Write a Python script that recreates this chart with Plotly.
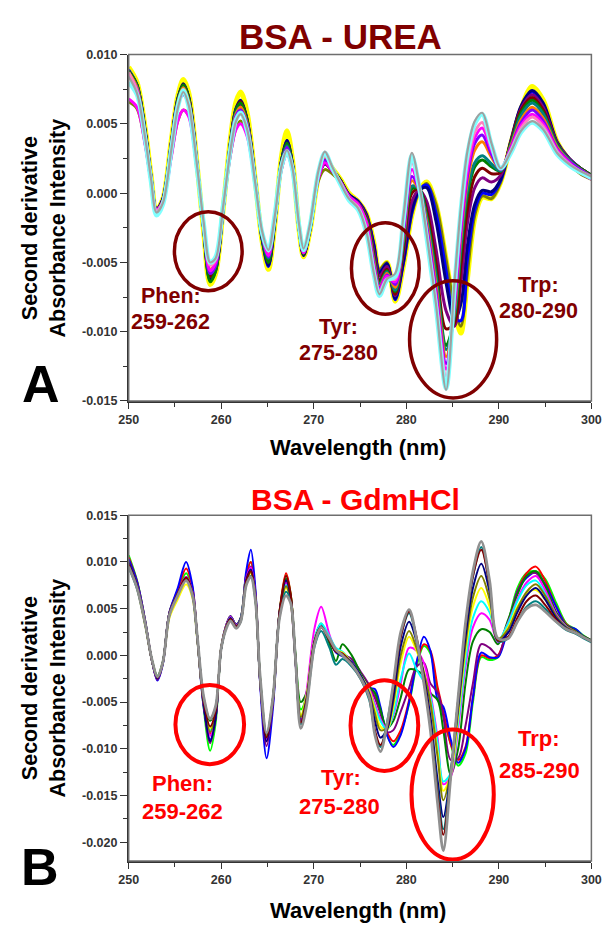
import plotly.graph_objects as go

# ---------------- Panel A: BSA - urea, second-derivative spectra ----------------
WL_A = [250.0, 250.9, 251.8, 252.4, 253.0, 253.7, 254.6, 255.3, 255.9, 256.5,
        257.4, 258.1, 258.8, 259.4, 260.2, 261.0, 261.6, 262.1, 262.8, 263.7,
        264.4, 265.1, 265.8, 266.5, 267.1, 267.7, 268.4, 268.9, 269.6, 270.5,
        271.2, 272.0, 272.9, 273.8, 274.8, 275.7, 276.5, 277.1, 277.9, 278.8,
        279.7, 280.6, 281.4, 282.2, 283.2, 284.3, 285.2, 285.9, 286.6, 287.4,
        288.2, 289.2, 290.2, 291.3, 292.4, 293.6, 294.8, 296.3, 297.6, 298.8, 300.0]

A_GRAY = [0.0084, 0.0072, 0.0039, 0.0011, -0.0014, -0.0007, 0.0031, 0.0061, 0.0073, 0.0063, 0.0019, -0.0021, -0.0050, -0.0047, -0.0010, 0.0031, 0.0052, 0.0057, 0.0046, 0.0006, -0.0027, -0.0041, -0.0016, 0.0019, 0.0031, 0.0018, -0.0022, -0.0040, -0.0022, 0.0016, 0.0030, 0.0019, 0.0007, -0.0004, -0.0011, -0.0028,
          -0.0058, -0.0073, -0.0062, -0.0058, -0.0016, 0.0029, 0.0006, -0.0030, -0.0080, -0.0142, -0.0065, -0.0010, 0.0030, 0.0052, 0.0058, 0.0036, 0.0018, 0.0030, 0.0045, 0.0052, 0.0046, 0.0029, 0.0021, 0.0016, 0.0012]
A_CYAN = [0.0080, 0.0071, 0.0038, 0.0009, -0.0016, -0.0008, 0.0031, 0.0062, 0.0074, 0.0062, 0.0017, -0.0022, -0.0050, -0.0046, -0.0009, 0.0032, 0.0053, 0.0058, 0.0045, 0.0005, -0.0028, -0.0041, -0.0015, 0.0019, 0.0030, 0.0017, -0.0023, -0.0041, -0.0023, 0.0015, 0.0029, 0.0018, 0.0006, -0.0005, -0.0012, -0.0029,
          -0.0059, -0.0074, -0.0063, -0.0060, -0.0018, 0.0027, 0.0004, -0.0032, -0.0082, -0.0141, -0.0068, -0.0012, 0.0028, 0.0050, 0.0057, 0.0035, 0.0018, 0.0029, 0.0044, 0.0051, 0.0045, 0.0028, 0.0020, 0.0015, 0.0011]
A_PINK = [0.0087, 0.0074, 0.0040, 0.0011, -0.0013, -0.0006, 0.0032, 0.0063, 0.0075, 0.0064, 0.0018, -0.0022, -0.0052, -0.0048, -0.0010, 0.0032, 0.0053, 0.0057, 0.0046, 0.0006, -0.0028, -0.0042, -0.0016, 0.0019, 0.0031, 0.0018, -0.0022, -0.0041, -0.0023, 0.0014, 0.0027, 0.0018, 0.0007, -0.0004, -0.0010, -0.0026,
          -0.0056, -0.0071, -0.0062, -0.0062, -0.0020, 0.0022, 0.0003, -0.0030, -0.0078, -0.0132, -0.0072, -0.0018, 0.0022, 0.0044, 0.0051, 0.0033, 0.0018, 0.0031, 0.0047, 0.0055, 0.0048, 0.0030, 0.0021, 0.0016, 0.0012]
A_MAGENTA = [0.0068, 0.0062, 0.0034, 0.0009, -0.0012, -0.0006, 0.0026, 0.0052, 0.0060, 0.0055, 0.0016, -0.0024, -0.0056, -0.0050, -0.0010, 0.0028, 0.0046, 0.0050, 0.0041, 0.0005, -0.0029, -0.0045, -0.0017, 0.0017, 0.0028, 0.0016, -0.0024, -0.0043, -0.0024, 0.0011, 0.0022, 0.0016, 0.0008, -0.0002, -0.0008, -0.0022,
             -0.0054, -0.0070, -0.0060, -0.0064, -0.0024, 0.0017, 0.0002, -0.0027, -0.0074, -0.0127, -0.0078, -0.0024, 0.0016, 0.0040, 0.0047, 0.0031, 0.0018, 0.0032, 0.0049, 0.0057, 0.0050, 0.0031, 0.0022, 0.0015, 0.0010]
A_VIOLET = [0.0086, 0.0075, 0.0041, 0.0011, -0.0013, -0.0006, 0.0033, 0.0064, 0.0071, 0.0064, 0.0018, -0.0024, -0.0058, -0.0052, -0.0011, 0.0034, 0.0056, 0.0060, 0.0049, 0.0006, -0.0030, -0.0046, -0.0017, 0.0020, 0.0033, 0.0019, -0.0024, -0.0043, -0.0024, 0.0012, 0.0024, 0.0017, 0.0008, -0.0003, -0.0009, -0.0022,
            -0.0052, -0.0069, -0.0059, -0.0066, -0.0028, 0.0012, 0.0002, -0.0024, -0.0070, -0.0123, -0.0082, -0.0028, 0.0012, 0.0036, 0.0042, 0.0028, 0.0017, 0.0033, 0.0051, 0.0060, 0.0052, 0.0032, 0.0023, 0.0017, 0.0012]
A_ORANGE = [0.0087, 0.0076, 0.0041, 0.0012, -0.0013, -0.0006, 0.0034, 0.0065, 0.0076, 0.0066, 0.0019, -0.0023, -0.0055, -0.0050, -0.0011, 0.0035, 0.0057, 0.0062, 0.0050, 0.0007, -0.0029, -0.0045, -0.0017, 0.0020, 0.0032, 0.0019, -0.0024, -0.0043, -0.0024, 0.0013, 0.0025, 0.0017, 0.0008, -0.0003, -0.0009, -0.0021,
            -0.0050, -0.0068, -0.0058, -0.0068, -0.0031, 0.0009, 0.0002, -0.0021, -0.0066, -0.0118, -0.0085, -0.0032, 0.0008, 0.0031, 0.0037, 0.0026, 0.0017, 0.0034, 0.0053, 0.0062, 0.0054, 0.0033, 0.0023, 0.0017, 0.0012]
A_TEAL = [0.0086, 0.0076, 0.0042, 0.0012, -0.0013, -0.0006, 0.0034, 0.0066, 0.0076, 0.0066, 0.0019, -0.0024, -0.0058, -0.0052, -0.0011, 0.0035, 0.0058, 0.0062, 0.0050, 0.0007, -0.0030, -0.0047, -0.0018, 0.0021, 0.0034, 0.0020, -0.0024, -0.0043, -0.0025, 0.0013, 0.0024, 0.0017, 0.0008, -0.0003, -0.0009, -0.0020,
          -0.0048, -0.0066, -0.0057, -0.0070, -0.0034, 0.0005, 0.0003, -0.0018, -0.0060, -0.0113, -0.0088, -0.0038, 0.0002, 0.0022, 0.0027, 0.0021, 0.0016, 0.0035, 0.0056, 0.0065, 0.0057, 0.0034, 0.0024, 0.0017, 0.0012]
A_GREEN = [0.0088, 0.0078, 0.0043, 0.0012, -0.0013, -0.0005, 0.0035, 0.0067, 0.0078, 0.0068, 0.0019, -0.0026, -0.0064, -0.0056, -0.0012, 0.0036, 0.0060, 0.0065, 0.0052, 0.0007, -0.0032, -0.0050, -0.0019, 0.0022, 0.0036, 0.0020, -0.0025, -0.0044, -0.0025, 0.0013, 0.0023, 0.0017, 0.0009, -0.0002, -0.0008, -0.0019,
           -0.0047, -0.0065, -0.0056, -0.0071, -0.0036, 0.0003, 0.0003, -0.0016, -0.0057, -0.0110, -0.0090, -0.0042, -0.0002, 0.0019, 0.0024, 0.0019, 0.0016, 0.0036, 0.0058, 0.0067, 0.0058, 0.0035, 0.0024, 0.0018, 0.0013]
A_DARKRED = [0.0087, 0.0077, 0.0043, 0.0012, -0.0013, -0.0005, 0.0035, 0.0067, 0.0078, 0.0068, 0.0019, -0.0025, -0.0060, -0.0054, -0.0011, 0.0036, 0.0060, 0.0066, 0.0052, 0.0007, -0.0031, -0.0050, -0.0019, 0.0022, 0.0036, 0.0020, -0.0025, -0.0044, -0.0025, 0.0013, 0.0022, 0.0017, 0.0009, -0.0002, -0.0008, -0.0018,
             -0.0045, -0.0063, -0.0055, -0.0073, -0.0040, 0.0000, 0.0003, -0.0012, -0.0050, -0.0098, -0.0094, -0.0052, -0.0012, 0.0012, 0.0018, 0.0014, 0.0015, 0.0037, 0.0060, 0.0069, 0.0060, 0.0035, 0.0024, 0.0018, 0.0013]
A_PURPLE = [0.0088, 0.0077, 0.0042, 0.0012, -0.0013, -0.0005, 0.0035, 0.0066, 0.0077, 0.0067, 0.0019, -0.0025, -0.0060, -0.0054, -0.0011, 0.0035, 0.0059, 0.0064, 0.0051, 0.0007, -0.0030, -0.0048, -0.0018, 0.0021, 0.0035, 0.0020, -0.0025, -0.0044, -0.0025, 0.0012, 0.0021, 0.0016, 0.0009, -0.0002, -0.0007, -0.0017,
            -0.0042, -0.0060, -0.0053, -0.0074, -0.0043, -0.0006, 0.0002, -0.0006, -0.0040, -0.0085, -0.0096, -0.0065, -0.0022, 0.0004, 0.0011, 0.0008, 0.0013, 0.0037, 0.0061, 0.0071, 0.0062, 0.0036, 0.0025, 0.0018, 0.0013]
A_NAVY = [0.0088, 0.0078, 0.0044, 0.0013, -0.0012, -0.0004, 0.0036, 0.0068, 0.0079, 0.0069, 0.0020, -0.0026, -0.0062, -0.0055, -0.0012, 0.0037, 0.0061, 0.0067, 0.0053, 0.0008, -0.0032, -0.0052, -0.0020, 0.0023, 0.0038, 0.0021, -0.0025, -0.0045, -0.0026, 0.0012, 0.0021, 0.0016, 0.0009, -0.0001, -0.0006, -0.0016,
          -0.0038, -0.0058, -0.0051, -0.0076, -0.0048, -0.0012, 0.0002, 0.0004, -0.0020, -0.0065, -0.0092, -0.0080, -0.0038, -0.0008, 0.0002, 0.0001, 0.0010, 0.0038, 0.0063, 0.0074, 0.0065, 0.0037, 0.0025, 0.0018, 0.0013]
A_BLUE = [0.0089, 0.0078, 0.0044, 0.0013, -0.0012, -0.0004, 0.0036, 0.0068, 0.0078, 0.0069, 0.0020, -0.0026, -0.0063, -0.0056, -0.0012, 0.0037, 0.0061, 0.0066, 0.0053, 0.0008, -0.0033, -0.0053, -0.0020, 0.0023, 0.0038, 0.0021, -0.0025, -0.0045, -0.0026, 0.0012, 0.0022, 0.0017, 0.0009, -0.0001, -0.0006, -0.0016,
          -0.0037, -0.0057, -0.0051, -0.0077, -0.0050, -0.0014, 0.0002, 0.0006, -0.0014, -0.0056, -0.0090, -0.0092, -0.0048, -0.0012, 0.0000, -0.0001, 0.0009, 0.0037, 0.0062, 0.0073, 0.0064, 0.0036, 0.0025, 0.0018, 0.0012]
A_OLIVE = [0.0066, 0.0061, 0.0035, 0.0009, -0.0011, -0.0005, 0.0027, 0.0052, 0.0060, 0.0056, 0.0017, -0.0024, -0.0058, -0.0051, -0.0011, 0.0028, 0.0047, 0.0052, 0.0043, 0.0006, -0.0029, -0.0046, -0.0018, 0.0017, 0.0029, 0.0017, -0.0024, -0.0044, -0.0026, 0.0009, 0.0017, 0.0014, 0.0008, -0.0001, -0.0006, -0.0015,
           -0.0040, -0.0055, -0.0050, -0.0072, -0.0050, -0.0015, 0.0001, 0.0007, -0.0008, -0.0048, -0.0082, -0.0096, -0.0058, -0.0016, -0.0002, -0.0004, 0.0008, 0.0034, 0.0057, 0.0068, 0.0060, 0.0033, 0.0021, 0.0014, 0.0010]
A_YELLOW = [0.0091, 0.0080, 0.0046, 0.0014, -0.0012, -0.0004, 0.0038, 0.0070, 0.0082, 0.0072, 0.0020, -0.0028, -0.0066, -0.0058, -0.0012, 0.0040, 0.0066, 0.0073, 0.0058, 0.0008, -0.0034, -0.0055, -0.0022, 0.0026, 0.0045, 0.0024, -0.0026, -0.0046, -0.0027, 0.0012, 0.0026, 0.0018, 0.0010, 0.0000, -0.0006, -0.0015,
            -0.0036, -0.0056, -0.0050, -0.0078, -0.0052, -0.0016, 0.0002, 0.0008, -0.0008, -0.0048, -0.0084, -0.0101, -0.0062, -0.0018, -0.0003, -0.0004, 0.0008, 0.0036, 0.0061, 0.0077, 0.0067, 0.0037, 0.0024, 0.0016, 0.0011]

# ---------------- Panel B: BSA - GdmHCl, second-derivative spectra ----------------
WL_B = [250.0, 250.9, 251.8, 252.5, 253.1, 253.7, 254.4, 255.3, 256.2, 256.9,
        257.4, 258.1, 258.8, 259.4, 260.0, 260.6, 261.0, 261.6, 262.1, 262.7,
        263.2, 263.7, 264.2, 264.9, 265.6, 266.3, 267.0, 267.5, 268.0, 268.6,
        269.2, 270.1, 270.8, 271.7, 272.4, 273.1, 274.1, 275.1, 276.0, 276.6,
        277.2, 277.9, 278.6, 279.4, 280.3, 281.1, 281.9, 282.6, 283.4, 284.0,
        284.8, 285.6, 286.4, 287.2, 288.1, 289.0, 289.9, 291.0, 292.0, 293.0,
        294.0, 295.0, 296.2, 297.3, 298.3, 299.2, 300.0]

B_GRAY = [0.0095, 0.0072, 0.0033, -0.0004, -0.0023, -0.0007, 0.0043, 0.0064, 0.0080, 0.0064, 0.0022, -0.0044, -0.0068, -0.0054, 0.0008, 0.0030, 0.0037, 0.0029, 0.0036, 0.0075, 0.0084, 0.0058, -0.0022, -0.0083, -0.0044, 0.0040, 0.0064, 0.0056, 0.0000, -0.0078, -0.0055, 0.0012, 0.0030, 0.0018, 0.0006, 0.0000,
          -0.0010, -0.0025, -0.0045, -0.0085, -0.0103, -0.0075, -0.0030, 0.0025, 0.0049, 0.0018, -0.0030, -0.0080, -0.0160, -0.0209, -0.0130, -0.0045, 0.0035, 0.0090, 0.0122, 0.0080, 0.0018, 0.0018, 0.0036, 0.0050, 0.0054, 0.0047, 0.0036, 0.0028, 0.0024, 0.0019, 0.0015]
B_TEAL = [0.0094, 0.0071, 0.0032, -0.0004, -0.0022, -0.0006, 0.0043, 0.0065, 0.0081, 0.0064, 0.0021, -0.0045, -0.0068, -0.0055, 0.0007, 0.0031, 0.0038, 0.0030, 0.0036, 0.0076, 0.0085, 0.0058, -0.0023, -0.0084, -0.0045, 0.0041, 0.0068, 0.0058, 0.0000, -0.0074, -0.0053, 0.0010, 0.0026, 0.0008, -0.0010, -0.0004,
          -0.0012, -0.0026, -0.0048, -0.0082, -0.0098, -0.0072, -0.0032, 0.0020, 0.0045, 0.0018, -0.0028, -0.0074, -0.0145, -0.0186, -0.0125, -0.0048, 0.0030, 0.0084, 0.0116, 0.0074, 0.0015, 0.0018, 0.0036, 0.0052, 0.0058, 0.0050, 0.0036, 0.0027, 0.0023, 0.0018, 0.0014]
B_DARKRED = [0.0097, 0.0073, 0.0033, -0.0005, -0.0024, -0.0007, 0.0044, 0.0066, 0.0083, 0.0066, 0.0021, -0.0049, -0.0076, -0.0059, 0.0008, 0.0032, 0.0039, 0.0031, 0.0037, 0.0079, 0.0090, 0.0061, -0.0025, -0.0088, -0.0046, 0.0046, 0.0085, 0.0065, 0.0000, -0.0072, -0.0050, 0.0015, 0.0030, 0.0016, 0.0004, 0.0002,
             -0.0010, -0.0025, -0.0045, -0.0080, -0.0096, -0.0078, -0.0035, 0.0020, 0.0047, 0.0020, -0.0026, -0.0075, -0.0150, -0.0192, -0.0128, -0.0048, 0.0030, 0.0085, 0.0113, 0.0075, 0.0016, 0.0020, 0.0040, 0.0058, 0.0064, 0.0054, 0.0038, 0.0028, 0.0024, 0.0019, 0.0015]
B_NAVY = [0.0099, 0.0075, 0.0034, -0.0005, -0.0025, -0.0007, 0.0045, 0.0066, 0.0083, 0.0066, 0.0020, -0.0052, -0.0092, -0.0066, 0.0008, 0.0032, 0.0040, 0.0031, 0.0038, 0.0081, 0.0092, 0.0062, -0.0027, -0.0092, -0.0047, 0.0046, 0.0080, 0.0062, -0.0002, -0.0072, -0.0049, 0.0016, 0.0031, 0.0016, 0.0004, 0.0000,
          -0.0008, -0.0022, -0.0042, -0.0070, -0.0088, -0.0080, -0.0045, 0.0010, 0.0036, 0.0015, -0.0022, -0.0065, -0.0135, -0.0173, -0.0125, -0.0055, 0.0020, 0.0072, 0.0098, 0.0068, 0.0016, 0.0024, 0.0046, 0.0064, 0.0072, 0.0060, 0.0040, 0.0029, 0.0024, 0.0019, 0.0015]
B_OLIVE = [0.0098, 0.0074, 0.0033, -0.0005, -0.0024, -0.0007, 0.0044, 0.0065, 0.0082, 0.0065, 0.0020, -0.0050, -0.0082, -0.0062, 0.0008, 0.0032, 0.0039, 0.0031, 0.0037, 0.0079, 0.0089, 0.0060, -0.0025, -0.0087, -0.0045, 0.0043, 0.0074, 0.0058, -0.0002, -0.0066, -0.0046, 0.0016, 0.0030, 0.0016, 0.0005, 0.0002,
           -0.0008, -0.0022, -0.0040, -0.0062, -0.0080, -0.0078, -0.0050, 0.0000, 0.0026, 0.0008, -0.0018, -0.0050, -0.0110, -0.0155, -0.0125, -0.0060, 0.0012, 0.0062, 0.0085, 0.0060, 0.0018, 0.0028, 0.0050, 0.0068, 0.0076, 0.0064, 0.0042, 0.0030, 0.0025, 0.0019, 0.0015]
B_YELLOW = [0.0097, 0.0072, 0.0031, -0.0004, -0.0022, -0.0006, 0.0040, 0.0060, 0.0076, 0.0061, 0.0018, -0.0048, -0.0078, -0.0060, 0.0009, 0.0032, 0.0039, 0.0031, 0.0037, 0.0078, 0.0088, 0.0059, -0.0024, -0.0085, -0.0044, 0.0042, 0.0072, 0.0057, -0.0002, -0.0064, -0.0044, 0.0017, 0.0030, 0.0017, 0.0006, 0.0003,
            -0.0008, -0.0022, -0.0038, -0.0058, -0.0076, -0.0080, -0.0055, -0.0008, 0.0020, 0.0005, -0.0018, -0.0050, -0.0105, -0.0145, -0.0128, -0.0065, 0.0005, 0.0052, 0.0072, 0.0052, 0.0016, 0.0030, 0.0052, 0.0066, 0.0070, 0.0060, 0.0040, 0.0029, 0.0024, 0.0019, 0.0015]
B_CYAN = [0.0096, 0.0073, 0.0033, -0.0005, -0.0024, -0.0007, 0.0044, 0.0065, 0.0082, 0.0065, 0.0020, -0.0049, -0.0080, -0.0061, 0.0008, 0.0032, 0.0040, 0.0031, 0.0038, 0.0080, 0.0090, 0.0060, -0.0025, -0.0087, -0.0045, 0.0043, 0.0075, 0.0058, -0.0002, -0.0066, -0.0045, 0.0018, 0.0034, 0.0020, 0.0008, 0.0004,
          -0.0008, -0.0022, -0.0038, -0.0055, -0.0070, -0.0080, -0.0062, -0.0025, 0.0002, -0.0015, -0.0028, -0.0045, -0.0095, -0.0135, -0.0126, -0.0072, -0.0005, 0.0040, 0.0058, 0.0046, 0.0016, 0.0034, 0.0058, 0.0075, 0.0080, 0.0066, 0.0042, 0.0030, 0.0024, 0.0019, 0.0015]
B_MAGENTA = [0.0098, 0.0075, 0.0034, -0.0005, -0.0025, -0.0007, 0.0045, 0.0066, 0.0084, 0.0067, 0.0020, -0.0051, -0.0086, -0.0063, 0.0008, 0.0033, 0.0041, 0.0032, 0.0038, 0.0082, 0.0094, 0.0063, -0.0026, -0.0090, -0.0046, 0.0044, 0.0078, 0.0058, -0.0004, -0.0072, -0.0040, 0.0030, 0.0052, 0.0022, 0.0006, 0.0003,
             -0.0008, -0.0022, -0.0036, -0.0052, -0.0068, -0.0078, -0.0064, -0.0030, 0.0008, 0.0005, -0.0008, -0.0040, -0.0090, -0.0138, -0.0130, -0.0078, -0.0012, 0.0030, 0.0045, 0.0038, 0.0014, 0.0035, 0.0060, 0.0078, 0.0085, 0.0070, 0.0044, 0.0031, 0.0025, 0.0019, 0.0015]
B_DARKGREEN = [0.0099, 0.0075, 0.0034, -0.0005, -0.0024, -0.0007, 0.0045, 0.0066, 0.0082, 0.0066, 0.0020, -0.0048, -0.0070, -0.0056, 0.0008, 0.0032, 0.0041, 0.0032, 0.0039, 0.0080, 0.0090, 0.0061, -0.0026, -0.0088, -0.0045, 0.0046, 0.0082, 0.0064, 0.0004, -0.0050, -0.0040, 0.0018, 0.0034, 0.0012, -0.0006, 0.0012,
               0.0000, -0.0020, -0.0034, -0.0040, -0.0058, -0.0078, -0.0070, -0.0045, -0.0015, -0.0016, -0.0022, -0.0040, -0.0048, -0.0080, -0.0128, -0.0100, -0.0030, 0.0015, 0.0028, 0.0025, 0.0012, 0.0038, 0.0065, 0.0085, 0.0090, 0.0075, 0.0046, 0.0032, 0.0026, 0.0020, 0.0016]
B_PURPLE = [0.0100, 0.0076, 0.0034, -0.0005, -0.0026, -0.0008, 0.0045, 0.0066, 0.0084, 0.0067, 0.0020, -0.0053, -0.0094, -0.0067, 0.0008, 0.0033, 0.0041, 0.0032, 0.0038, 0.0083, 0.0095, 0.0063, -0.0028, -0.0097, -0.0050, 0.0045, 0.0080, 0.0062, -0.0002, -0.0070, -0.0048, 0.0016, 0.0031, 0.0016, 0.0004, 0.0001,
            -0.0004, -0.0018, -0.0032, -0.0045, -0.0062, -0.0082, -0.0080, -0.0060, -0.0035, -0.0012, -0.0008, -0.0030, -0.0040, -0.0065, -0.0112, -0.0110, -0.0075, -0.0030, 0.0012, 0.0008, 0.0000, 0.0035, 0.0068, 0.0085, 0.0088, 0.0074, 0.0046, 0.0032, 0.0026, 0.0020, 0.0016]
B_BLUE = [0.0103, 0.0079, 0.0036, -0.0005, -0.0027, -0.0009, 0.0046, 0.0072, 0.0100, 0.0074, 0.0020, -0.0055, -0.0090, -0.0066, 0.0009, 0.0034, 0.0042, 0.0033, 0.0040, 0.0090, 0.0113, 0.0070, -0.0030, -0.0110, -0.0055, 0.0044, 0.0078, 0.0060, -0.0002, -0.0068, -0.0048, 0.0014, 0.0030, 0.0016, 0.0003, -0.0001,
          -0.0006, -0.0020, -0.0035, -0.0036, -0.0055, -0.0085, -0.0098, -0.0085, -0.0050, -0.0008, 0.0020, 0.0005, -0.0048, -0.0055, -0.0090, -0.0115, -0.0100, -0.0045, 0.0003, -0.0002, -0.0002, 0.0030, 0.0068, 0.0083, 0.0089, 0.0076, 0.0052, 0.0032, 0.0028, 0.0020, 0.0016]
B_RED = [0.0105, 0.0079, 0.0036, -0.0005, -0.0026, -0.0008, 0.0046, 0.0070, 0.0093, 0.0072, 0.0021, -0.0052, -0.0084, -0.0063, 0.0008, 0.0034, 0.0042, 0.0033, 0.0040, 0.0086, 0.0100, 0.0066, -0.0027, -0.0092, -0.0047, 0.0047, 0.0088, 0.0066, 0.0000, -0.0070, -0.0048, 0.0016, 0.0031, 0.0016, 0.0004, 0.0001,
         -0.0005, -0.0020, -0.0036, -0.0045, -0.0060, -0.0082, -0.0092, -0.0080, -0.0048, -0.0008, 0.0012, 0.0005, -0.0035, -0.0060, -0.0095, -0.0112, -0.0098, -0.0045, 0.0000, -0.0003, 0.0000, 0.0032, 0.0068, 0.0088, 0.0095, 0.0080, 0.0052, 0.0033, 0.0027, 0.0020, 0.0016]
B_GREEN = [0.0107, 0.0080, 0.0036, -0.0005, -0.0025, -0.0008, 0.0046, 0.0068, 0.0088, 0.0069, 0.0021, -0.0056, -0.0102, -0.0072, 0.0008, 0.0034, 0.0042, 0.0033, 0.0040, 0.0086, 0.0100, 0.0066, -0.0027, -0.0091, -0.0047, 0.0047, 0.0086, 0.0066, 0.0002, -0.0058, -0.0044, 0.0016, 0.0030, 0.0016, 0.0004, 0.0002,
           -0.0006, -0.0020, -0.0034, -0.0040, -0.0058, -0.0085, -0.0096, -0.0082, -0.0052, -0.0012, 0.0010, 0.0002, -0.0040, -0.0065, -0.0095, -0.0118, -0.0105, -0.0050, -0.0002, -0.0005, -0.0002, 0.0035, 0.0072, 0.0088, 0.0090, 0.0082, 0.0056, 0.0034, 0.0028, 0.0021, 0.0016]

# tick labels (hyphen-minus, three decimals)
X_TICKS = [250, 260, 270, 280, 290, 300]
X_TICK_TEXT = ["250", "260", "270", "280", "290", "300"]
Y_TICKS_A = [-0.015, -0.010, -0.005, 0.0, 0.005, 0.010]
Y_TICK_TEXT_A = ["-0.015", "-0.010", "-0.005", "0.000", "0.005", "0.010"]
Y_TICKS_B = [-0.020, -0.015, -0.010, -0.005, 0.0, 0.005, 0.010, 0.015]
Y_TICK_TEXT_B = ["-0.020", "-0.015", "-0.010", "-0.005", "0.000", "0.005", "0.010", "0.015"]

# ---------------- drawing ----------------
W, H = 613, 929
FONT = "Liberation Sans, Arial, sans-serif"


def fx(px):
    return px / W


def fy(py):
    return 1 - py / H


# (series, colour, width) in drawing order
SERIES_A = [
    (A_YELLOW, "#FFFF00", 5.0),
    (A_OLIVE, "#808000", 3.0),
    (A_BLUE, "#0000FF", 3.0),
    (A_NAVY, "#000080", 3.0),
    (A_PURPLE, "#800080", 3.0),
    (A_DARKRED, "#800000", 3.0),
    (A_GREEN, "#008000", 3.0),
    (A_TEAL, "#008080", 3.0),
    (A_ORANGE, "#FF8000", 3.0),
    (A_VIOLET, "#8000FF", 3.0),
    (A_MAGENTA, "#FF00FF", 3.0),
    (A_PINK, "#FF80C0", 3.0),
    (A_CYAN, "#80FFFF", 4.5),
    (A_GRAY, "#A0A0A0", 2.2),
]
SERIES_B = [
    (B_GREEN, "#00FF00", 2.0),
    (B_RED, "#FF0000", 2.0),
    (B_BLUE, "#0000FF", 2.0),
    (B_PURPLE, "#800080", 2.0),
    (B_DARKGREEN, "#008000", 2.0),
    (B_MAGENTA, "#FF00FF", 2.0),
    (B_CYAN, "#00FFFF", 2.0),
    (B_YELLOW, "#FFFF00", 2.0),
    (B_OLIVE, "#808000", 2.0),
    (B_NAVY, "#000080", 2.0),
    (B_TEAL, "#008080", 2.0),
    (B_DARKRED, "#800000", 2.0),
    (B_GRAY, "#909090", 2.8),
]

fig = go.Figure()
for vals, color, width in SERIES_A:
    fig.add_trace(go.Scatter(x=WL_A, y=vals, mode="lines", xaxis="x", yaxis="y",
                             line=dict(color=color, width=width, shape="spline", smoothing=0.9),
                             showlegend=False, hoverinfo="skip"))
for vals, color, width in SERIES_B:
    fig.add_trace(go.Scatter(x=WL_B, y=vals, mode="lines", xaxis="x2", yaxis="y2",
                             line=dict(color=color, width=width, shape="spline", smoothing=0.9),
                             showlegend=False, hoverinfo="skip"))

X_DOMAIN = [fx(122.7), fx(601)]
tick_font = dict(family=FONT, size=12.5, color="#333333", weight="bold")


def xaxis_cfg(anchor):
    return dict(domain=X_DOMAIN, anchor=anchor, range=[250, 300],
                tickmode="array", tickvals=X_TICKS, ticktext=X_TICK_TEXT,
                ticks="outside", ticklen=6, tickwidth=1.2, tickcolor="#333333",
                minor=dict(tickmode="linear", tick0=250, dtick=5, ticks="outside",
                           ticklen=4, tickwidth=1, tickcolor="#333333"),
                showline=True, linecolor="#333333", linewidth=1.5,
                showgrid=False, zeroline=False, tickfont=tick_font)


def yaxis_cfg(anchor, dom, rng, vals, text):
    return dict(domain=dom, anchor=anchor, range=rng,
                tickmode="array", tickvals=vals, ticktext=text,
                ticks="outside", ticklen=7, tickwidth=1.2, tickcolor="#333333",
                minor=dict(tickmode="linear", tick0=0, dtick=0.0025, ticks="outside",
                           ticklen=4, tickwidth=1, tickcolor="#333333"),
                showline=True, linecolor="#333333", linewidth=1.5,
                showgrid=False, zeroline=False, tickfont=tick_font)


fig.update_layout(
    width=W, height=H,
    margin=dict(l=0, r=0, t=0, b=0),
    paper_bgcolor="white", plot_bgcolor="white",
    xaxis=xaxis_cfg("y"),
    yaxis=yaxis_cfg("x", [fy(400), fy(48.3)], [-0.015, 0.010], Y_TICKS_A, Y_TICK_TEXT_A),
    xaxis2=xaxis_cfg("y2"),
    yaxis2=yaxis_cfg("x2", [fy(867), fy(516)], [-0.022, 0.015], Y_TICKS_B, Y_TICK_TEXT_B),
)

# frame around both plot areas
shapes = []
for xr, yr in (("x domain", "y domain"), ("x2 domain", "y2 domain")):
    shapes.append(dict(type="rect", xref=xr, yref=yr, x0=0, x1=1, y0=0, y1=1,
                       line=dict(color="#6E6E6E", width=1.5), layer="above"))

# ellipses marking the aromatic-residue bands
DARK_RED = "#800000"
RED = "#FF0000"
for x0, x1, y0, y1 in ((254.94, 262.26, -0.00704, -0.00135),
                       (274.07, 281.39, -0.00874, -0.00213),
                       (280.35, 289.76, -0.01478, -0.00633)):
    shapes.append(dict(type="circle", xref="x", yref="y", x0=x0, x1=x1, y0=y0, y1=y1,
                       line=dict(color=DARK_RED, width=3.5), layer="above"))
for x0, x1, y0, y1 in ((255.05, 262.47, -0.01164, -0.00318),
                       (273.97, 281.29, -0.01238, -0.00265),
                       (280.56, 289.45, -0.02185, -0.00794)):
    shapes.append(dict(type="circle", xref="x2", yref="y2", x0=x0, x1=x1, y0=y0, y1=y1,
                       line=dict(color=RED, width=4), layer="above"))
fig.update_layout(shapes=shapes)

annotations = []


def label(text, px, py, size, color, angle=0):
    annotations.append(dict(text=text, x=fx(px), y=fy(py), xref="paper", yref="paper",
                            xanchor="center", yanchor="middle", showarrow=False,
                            textangle=angle,
                            font=dict(family=FONT, size=size, color=color, weight="bold")))


# panel titles
label("BSA - UREA", 342, 30, 35, DARK_RED)
label("BSA - GdmHCl", 357, 500, 30, RED)

# axis titles
for cy in (224, 691):
    label("Second derivative<br>Absorbance Intensity", 35, cy, 21.5, "black", angle=-90)
label("Wavelength (nm)", 360, 447, 22, "black")
label("Wavelength (nm)", 360, 917, 22, "black")

# panel letters
label("A", 32, 383, 52, "black")
label("B", 31, 873, 52, "black")

# band labels, panel A
for text, px, py in (("Phen:", 166, 293), ("259-262", 166, 320),
                     ("Tyr:", 340, 325), ("275-280", 340, 351),
                     ("Trp:", 546, 282), ("280-290", 546, 309)):
    label(text, px, py, 21.5, DARK_RED)

# band labels, panel B
for text, px, py in (("Phen:", 178, 788), ("259-262", 178, 817),
                     ("Tyr:", 342, 782), ("275-280", 341, 812),
                     ("Trp:", 547, 743), ("285-290", 547, 775)):
    label(text, px, py, 22, RED)

fig.update_layout(annotations=annotations)

fig.write_html("out.html")
